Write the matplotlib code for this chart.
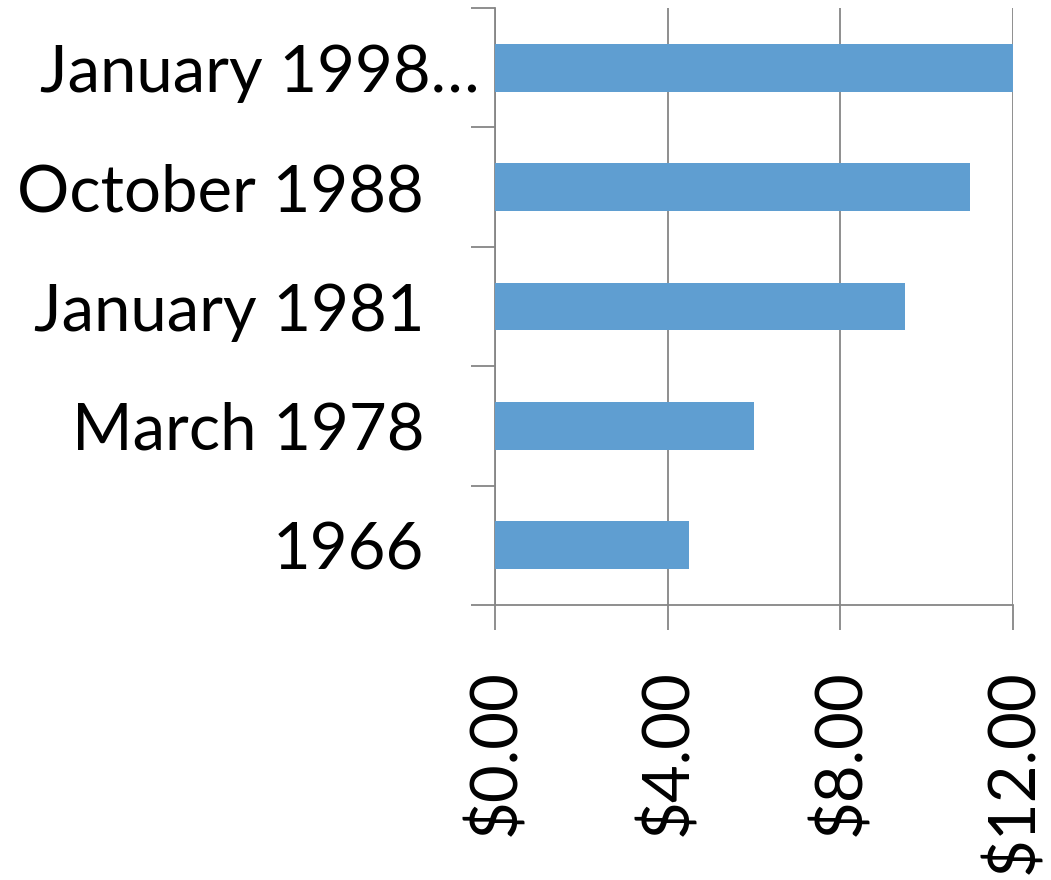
import matplotlib.pyplot as plt
import matplotlib.transforms as mtransforms
from matplotlib.ticker import FixedLocator, FuncFormatter

categories = ["1966", "March 1978", "January 1981", "October 1988", "January 1998…"]
values = [4.50, 6.00, 9.50, 11.00, 12.00]
x_ticks = [0, 4, 8, 12]

bar_color = "#5F9ED1"
grid_color = "#868686"

plt.rcParams["font.family"] = ["Lato", "DejaVu Sans"]

fig = plt.figure(figsize=(10.51, 8.8), dpi=100)
ax = fig.add_axes([495 / 1051, 1 - 605 / 880, (1013 - 495) / 1051, (605 - 8) / 880])

pos = list(range(len(categories)))
ax.barh(pos, values, height=0.4, color=bar_color, zorder=3)

ax.set_xlim(0, 12)
ax.set_ylim(-0.5, len(categories) - 0.5)

# gridlines on value axis
ax.set_xticks(x_ticks)
ax.xaxis.set_major_formatter(FuncFormatter(lambda v, p: f"${v:.2f}"))
ax.grid(axis="x", color=grid_color, linewidth=1.3, zorder=1)
ax.tick_params(axis="x", direction="out", length=18, width=1.3, color=grid_color,
               pad=28, labelsize=47, labelrotation=90)

# category labels centred, tick marks on boundaries
ax.set_yticks(pos)
ax.set_yticklabels(categories)
ax.yaxis.set_minor_locator(FixedLocator([p - 0.5 for p in pos] + [len(pos) - 0.5]))
ax.tick_params(axis="y", which="major", length=0, pad=51, labelsize=47)
ax.tick_params(axis="y", which="minor", direction="out", length=17, width=1.3, color=grid_color)

# long label truncated in the original sits closer to the axis
last = ax.get_yticklabels()[-1]
last.set_transform(last.get_transform() + mtransforms.ScaledTranslation(55 / 100, 0, fig.dpi_scale_trans))

for side in ["top", "right"]:
    ax.spines[side].set_visible(False)
for side in ["left", "bottom"]:
    ax.spines[side].set_color(grid_color)
    ax.spines[side].set_linewidth(1.3)

fig.savefig("out.png", dpi=100)
